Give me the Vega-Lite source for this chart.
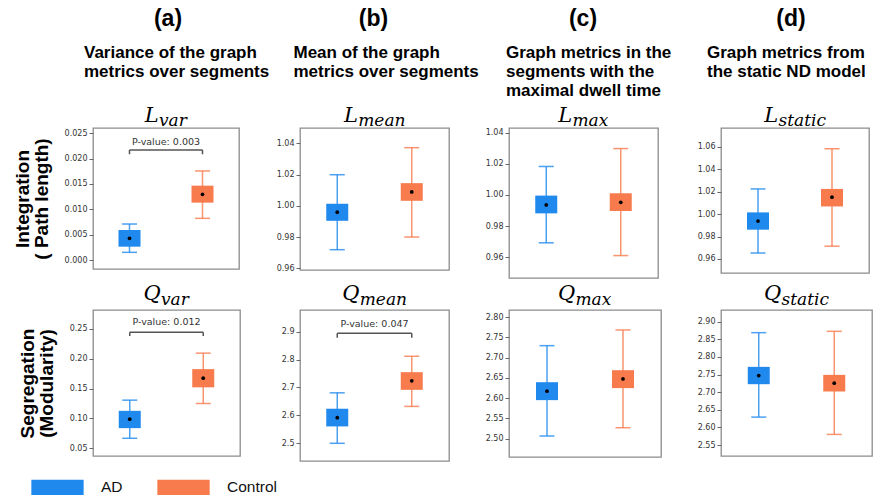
{
  "$schema": "https://vega.github.io/schema/vega-lite/v6.json",
  "padding": {"left": 12, "top": 0, "right": 0, "bottom": 0},
  "background": "white",
  "columns": 4,
  "bounds": "flush",
  "align": "each",
  "spacing": {"row": 32, "column": 60},
  "resolve": {"scale": {"color": "independent"}, "legend": {"color": "independent"}},
  "datasets": {
    "header": [
      {"col": "a", "line": 0, "text": "(a)"},
      {"col": "a", "line": 1, "text": "Variance of the graph"},
      {"col": "a", "line": 2, "text": "metrics over segments"},
      {"col": "b", "line": 0, "text": "(b)"},
      {"col": "b", "line": 1, "text": "Mean of the graph"},
      {"col": "b", "line": 2, "text": "metrics over segments"},
      {"col": "c", "line": 0, "text": "(c)"},
      {"col": "c", "line": 1, "text": "Graph metrics in the"},
      {"col": "c", "line": 2, "text": "segments with the"},
      {"col": "c", "line": 3, "text": "maximal dwell time"},
      {"col": "d", "line": 0, "text": "(d)"},
      {"col": "d", "line": 1, "text": "Graph metrics from"},
      {"col": "d", "line": 2, "text": "the static ND model"}
    ],
    "boxes": [
      {"panel": "Lvar", "group": "AD", "min": 0.00151, "q1": 0.00263, "mean": 0.00428, "q3": 0.00592, "max": 0.0071},
      {"panel": "Lvar", "group": "Control", "min": 0.00822, "q1": 0.01132, "mean": 0.01296, "q3": 0.01467, "max": 0.01757},
      {"panel": "Lmean", "group": "AD", "min": 0.9719, "q1": 0.9904, "mean": 0.9959, "q3": 1.0013, "max": 1.0199},
      {"panel": "Lmean", "group": "Control", "min": 0.98, "q1": 1.0032, "mean": 1.0089, "q3": 1.0145, "max": 1.0372},
      {"panel": "Lmax", "group": "AD", "min": 0.9693, "q1": 0.9882, "mean": 0.9936, "q3": 0.9996, "max": 1.0183},
      {"panel": "Lmax", "group": "Control", "min": 0.9611, "q1": 0.9897, "mean": 0.9953, "q3": 1.0011, "max": 1.0298},
      {"panel": "Lstatic", "group": "AD", "min": 0.9653, "q1": 0.9861, "mean": 0.9938, "q3": 1.0015, "max": 1.0224},
      {"panel": "Lstatic", "group": "Control", "min": 0.9714, "q1": 1.0068, "mean": 1.015, "q3": 1.0224, "max": 1.0582},
      {"panel": "Qvar", "group": "AD", "min": 0.0668, "q1": 0.0838, "mean": 0.0989, "q3": 0.1128, "max": 0.1307},
      {"panel": "Qvar", "group": "Control", "min": 0.1251, "q1": 0.1522, "mean": 0.1676, "q3": 0.1827, "max": 0.2095},
      {"panel": "Qmean", "group": "AD", "min": 2.5, "q1": 2.5606, "mean": 2.5916, "q3": 2.6239, "max": 2.6809},
      {"panel": "Qmean", "group": "Control", "min": 2.6322, "q1": 2.6916, "mean": 2.7239, "q3": 2.7549, "max": 2.8119},
      {"panel": "Qmax", "group": "AD", "min": 2.5066, "q1": 2.5951, "mean": 2.6173, "q3": 2.6393, "max": 2.7294},
      {"panel": "Qmax", "group": "Control", "min": 2.5271, "q1": 2.6247, "mean": 2.6475, "q3": 2.6689, "max": 2.7681},
      {"panel": "Qstatic", "group": "AD", "min": 2.6292, "q1": 2.7226, "mean": 2.7472, "q3": 2.7718, "max": 2.8689},
      {"panel": "Qstatic", "group": "Control", "min": 2.5801, "q1": 2.7019, "mean": 2.7254, "q3": 2.7491, "max": 2.8727}
    ],
    "brackets": [
      {"panel": "Lvar", "from": "AD", "to": "Control", "y": 0.02171, "yleg": 0.02086, "ytext": 0.02336, "label": "P-value:  0.003"},
      {"panel": "Qvar", "from": "AD", "to": "Control", "y": 0.2444, "yleg": 0.2381, "ytext": 0.2612, "label": "P-value:  0.012"},
      {"panel": "Qmean", "from": "AD", "to": "Control", "y": 2.894, "yleg": 2.8785, "ytext": 2.9275, "label": "P-value:  0.047"}
    ]
  },
  "concat": [
    {
      "width": 147, "height": 96, "view": {"stroke": null},
      "data": {"name": "header"},
      "transform": [{"filter": "datum.col === 'a'"}],
      "encoding": {"y": {"field": "line", "type": "quantitative", "scale": {"domain": [-2.053, 3.0], "reverse": true, "nice": false, "zero": false}, "axis": null}, "text": {"field": "text"}},
      "layer": [
        {"transform": [{"filter": "datum.line === 0"}], "mark": {"type": "text", "font": "Liberation Sans", "fontWeight": "bold", "fontSize": 23, "align": "center", "baseline": "alphabetic", "dy": -13, "dx": 1.5, "color": "#000000"}},
        {"transform": [{"filter": "datum.line > 0"}], "mark": {"type": "text", "font": "Liberation Sans", "fontWeight": "bold", "fontSize": 17, "align": "left", "baseline": "alphabetic", "dx": -82.5, "color": "#000000"}}
      ]
    },
    {
      "width": 149, "height": 96, "view": {"stroke": null},
      "data": {"name": "header"},
      "transform": [{"filter": "datum.col === 'b'"}],
      "encoding": {"y": {"field": "line", "type": "quantitative", "scale": {"domain": [-2.053, 3.0], "reverse": true, "nice": false, "zero": false}, "axis": null}, "text": {"field": "text"}},
      "layer": [
        {"transform": [{"filter": "datum.line === 0"}], "mark": {"type": "text", "font": "Liberation Sans", "fontWeight": "bold", "fontSize": 23, "align": "center", "baseline": "alphabetic", "dy": -13, "dx": -1, "color": "#000000"}},
        {"transform": [{"filter": "datum.line > 0"}], "mark": {"type": "text", "font": "Liberation Sans", "fontWeight": "bold", "fontSize": 17, "align": "left", "baseline": "alphabetic", "dx": -81, "color": "#000000"}}
      ]
    },
    {
      "width": 152, "height": 96, "view": {"stroke": null},
      "data": {"name": "header"},
      "transform": [{"filter": "datum.col === 'c'"}],
      "encoding": {"y": {"field": "line", "type": "quantitative", "scale": {"domain": [-2.053, 3.0], "reverse": true, "nice": false, "zero": false}, "axis": null}, "text": {"field": "text"}},
      "layer": [
        {"transform": [{"filter": "datum.line === 0"}], "mark": {"type": "text", "font": "Liberation Sans", "fontWeight": "bold", "fontSize": 23, "align": "center", "baseline": "alphabetic", "dy": -13, "dx": -2, "color": "#000000"}},
        {"transform": [{"filter": "datum.line > 0"}], "mark": {"type": "text", "font": "Liberation Sans", "fontWeight": "bold", "fontSize": 17, "align": "left", "baseline": "alphabetic", "dx": -79, "color": "#000000"}}
      ]
    },
    {
      "width": 151, "height": 96, "view": {"stroke": null},
      "data": {"name": "header"},
      "transform": [{"filter": "datum.col === 'd'"}],
      "encoding": {"y": {"field": "line", "type": "quantitative", "scale": {"domain": [-2.053, 3.0], "reverse": true, "nice": false, "zero": false}, "axis": null}, "text": {"field": "text"}},
      "layer": [
        {"transform": [{"filter": "datum.line === 0"}], "mark": {"type": "text", "font": "Liberation Sans", "fontWeight": "bold", "fontSize": 23, "align": "center", "baseline": "alphabetic", "dy": -13, "dx": -5.5, "color": "#000000"}},
        {"transform": [{"filter": "datum.line > 0"}], "mark": {"type": "text", "font": "Liberation Sans", "fontWeight": "bold", "fontSize": 17, "align": "left", "baseline": "alphabetic", "dx": -89.5, "color": "#000000"}}
      ]
    },
    {
      "width": 146, "height": 141,
      "title": {"text": "L", "dx": -14.2, "offset": 0, "dy": 15},
      "data": {"name": "boxes"},
      "transform": [{"filter": "datum.panel === 'Lvar'"}],
      "encoding": {"x": {"field": "group", "type": "nominal", "title": "var", "scale": {"type": "point", "padding": 0.5, "domain": ["AD", "Control"]}, "axis": {"orient": "top", "title": "var", "titleX": 65.5, "titleY": -3}}},
      "layer": [
        {"mark": {"type": "rule", "strokeWidth": 1.5, "opacity": 0.8}, "encoding": {"y": {"field": "min", "type": "quantitative", "title": ["Integration", "( Path length)"], "scale": {"domain": [-0.001776, 0.02605], "nice": false, "zero": false}, "axis": {"values": [0, 0.005, 0.01, 0.015, 0.02, 0.025], "format": ".3f"}}, "y2": {"field": "max"}, "color": {"field": "group", "type": "nominal", "scale": {"domain": ["AD", "Control"], "range": ["#1f89ee", "#f77b4c"]}, "legend": null}}},
        {"mark": {"type": "tick", "thickness": 1.5, "size": 15, "opacity": 0.8}, "encoding": {"y": {"field": "min", "type": "quantitative", "title": ["Integration", "( Path length)"], "axis": {"values": [0, 0.005, 0.01, 0.015, 0.02, 0.025], "format": ".3f"}}, "color": {"field": "group", "type": "nominal", "legend": null}}},
        {"mark": {"type": "tick", "thickness": 1.5, "size": 15, "opacity": 0.8}, "encoding": {"y": {"field": "max", "type": "quantitative", "title": ["Integration", "( Path length)"], "axis": {"values": [0, 0.005, 0.01, 0.015, 0.02, 0.025], "format": ".3f"}}, "color": {"field": "group", "type": "nominal", "legend": null}}},
        {"mark": {"type": "bar", "size": 22}, "encoding": {"y": {"field": "q1", "type": "quantitative", "title": ["Integration", "( Path length)"], "axis": {"values": [0, 0.005, 0.01, 0.015, 0.02, 0.025], "format": ".3f"}}, "y2": {"field": "q3"}, "color": {"field": "group", "type": "nominal", "legend": null}}},
        {"mark": {"type": "point", "filled": true, "color": "#000000", "size": 14, "opacity": 1}, "encoding": {"y": {"field": "mean", "type": "quantitative", "title": ["Integration", "( Path length)"], "axis": {"values": [0, 0.005, 0.01, 0.015, 0.02, 0.025], "format": ".3f"}}}},
        {"data": {"name": "brackets"}, "transform": [{"filter": "datum.panel === 'Lvar'"}], "mark": {"type": "rule", "color": "#555555", "strokeWidth": 1.5}, "encoding": {"x": {"field": "from", "type": "nominal", "title": "var"}, "x2": {"field": "to"}, "y": {"field": "y", "type": "quantitative", "title": ["Integration", "( Path length)"], "axis": {"values": [0, 0.005, 0.01, 0.015, 0.02, 0.025], "format": ".3f"}}}},
        {"data": {"name": "brackets"}, "transform": [{"filter": "datum.panel === 'Lvar'"}], "mark": {"type": "rule", "color": "#555555", "strokeWidth": 1.5}, "encoding": {"x": {"field": "from", "type": "nominal", "title": "var"}, "y": {"field": "y", "type": "quantitative", "title": ["Integration", "( Path length)"], "axis": {"values": [0, 0.005, 0.01, 0.015, 0.02, 0.025], "format": ".3f"}}, "y2": {"field": "yleg"}}},
        {"data": {"name": "brackets"}, "transform": [{"filter": "datum.panel === 'Lvar'"}], "mark": {"type": "rule", "color": "#555555", "strokeWidth": 1.5}, "encoding": {"x": {"field": "to", "type": "nominal", "title": "var"}, "y": {"field": "y", "type": "quantitative", "title": ["Integration", "( Path length)"], "axis": {"values": [0, 0.005, 0.01, 0.015, 0.02, 0.025], "format": ".3f"}}, "y2": {"field": "yleg"}}},
        {"data": {"name": "brackets"}, "transform": [{"filter": "datum.panel === 'Lvar'"}], "mark": {"type": "text", "font": "DejaVu Sans", "fontSize": 9.5, "color": "#333333", "align": "center", "baseline": "middle", "dx": 36.5}, "encoding": {"x": {"field": "from", "type": "nominal", "title": "var"}, "y": {"field": "ytext", "type": "quantitative", "title": ["Integration", "( Path length)"], "axis": {"values": [0, 0.005, 0.01, 0.015, 0.02, 0.025], "format": ".3f"}}, "text": {"field": "label"}}}
      ]
    },
    {
      "width": 149, "height": 142,
      "title": {"text": "L", "dx": -23.5, "offset": 0, "dy": 15},
      "data": {"name": "boxes"},
      "transform": [{"filter": "datum.panel === 'Lmean'"}],
      "encoding": {"x": {"field": "group", "type": "nominal", "scale": {"type": "point", "padding": 0.5, "domain": ["AD", "Control"]}, "axis": {"orient": "top", "title": "mean", "titleX": 57.7, "titleY": -3}}},
      "layer": [
        {"mark": {"type": "rule", "strokeWidth": 1.5, "opacity": 0.8}, "encoding": {"y": {"field": "min", "type": "quantitative", "title": null, "scale": {"domain": [0.9589, 1.0498], "nice": false, "zero": false}, "axis": {"values": [0.96, 0.98, 1.0, 1.02, 1.04], "format": ".2f"}}, "y2": {"field": "max"}, "color": {"field": "group", "type": "nominal", "scale": {"domain": ["AD", "Control"], "range": ["#1f89ee", "#f77b4c"]}, "legend": null}}},
        {"mark": {"type": "tick", "thickness": 1.5, "size": 15, "opacity": 0.8}, "encoding": {"y": {"field": "min", "type": "quantitative", "title": null, "axis": {"values": [0.96, 0.98, 1.0, 1.02, 1.04], "format": ".2f"}}, "color": {"field": "group", "type": "nominal", "legend": null}}},
        {"mark": {"type": "tick", "thickness": 1.5, "size": 15, "opacity": 0.8}, "encoding": {"y": {"field": "max", "type": "quantitative", "title": null, "axis": {"values": [0.96, 0.98, 1.0, 1.02, 1.04], "format": ".2f"}}, "color": {"field": "group", "type": "nominal", "legend": null}}},
        {"mark": {"type": "bar", "size": 22}, "encoding": {"y": {"field": "q1", "type": "quantitative", "title": null, "axis": {"values": [0.96, 0.98, 1.0, 1.02, 1.04], "format": ".2f"}}, "y2": {"field": "q3"}, "color": {"field": "group", "type": "nominal", "legend": null}}},
        {"mark": {"type": "point", "filled": true, "color": "#000000", "size": 14, "opacity": 1}, "encoding": {"y": {"field": "mean", "type": "quantitative", "title": null, "axis": {"values": [0.96, 0.98, 1.0, 1.02, 1.04], "format": ".2f"}}}}
      ]
    },
    {
      "width": 149, "height": 150,
      "title": {"text": "L", "dx": -18.2, "offset": 0, "dy": 15},
      "data": {"name": "boxes"},
      "transform": [{"filter": "datum.panel === 'Lmax'"}],
      "encoding": {"x": {"field": "group", "type": "nominal", "scale": {"type": "point", "padding": 0.5, "domain": ["AD", "Control"]}, "axis": {"orient": "top", "title": "max", "titleX": 63, "titleY": -3}}},
      "layer": [
        {"mark": {"type": "rule", "strokeWidth": 1.5, "opacity": 0.8}, "encoding": {"y": {"field": "min", "type": "quantitative", "title": null, "scale": {"domain": [0.9467, 1.043], "nice": false, "zero": false}, "axis": {"values": [0.96, 0.98, 1.0, 1.02, 1.04], "format": ".2f"}}, "y2": {"field": "max"}, "color": {"field": "group", "type": "nominal", "scale": {"domain": ["AD", "Control"], "range": ["#1f89ee", "#f77b4c"]}, "legend": null}}},
        {"mark": {"type": "tick", "thickness": 1.5, "size": 15, "opacity": 0.8}, "encoding": {"y": {"field": "min", "type": "quantitative", "title": null, "axis": {"values": [0.96, 0.98, 1.0, 1.02, 1.04], "format": ".2f"}}, "color": {"field": "group", "type": "nominal", "legend": null}}},
        {"mark": {"type": "tick", "thickness": 1.5, "size": 15, "opacity": 0.8}, "encoding": {"y": {"field": "max", "type": "quantitative", "title": null, "axis": {"values": [0.96, 0.98, 1.0, 1.02, 1.04], "format": ".2f"}}, "color": {"field": "group", "type": "nominal", "legend": null}}},
        {"mark": {"type": "bar", "size": 22}, "encoding": {"y": {"field": "q1", "type": "quantitative", "title": null, "axis": {"values": [0.96, 0.98, 1.0, 1.02, 1.04], "format": ".2f"}}, "y2": {"field": "q3"}, "color": {"field": "group", "type": "nominal", "legend": null}}},
        {"mark": {"type": "point", "filled": true, "color": "#000000", "size": 14, "opacity": 1}, "encoding": {"y": {"field": "mean", "type": "quantitative", "title": null, "axis": {"values": [0.96, 0.98, 1.0, 1.02, 1.04], "format": ".2f"}}}}
      ]
    },
    {
      "width": 148, "height": 145,
      "title": {"text": "L", "dx": -23.7, "offset": 0, "dy": 15},
      "data": {"name": "boxes"},
      "transform": [{"filter": "datum.panel === 'Lstatic'"}],
      "encoding": {"x": {"field": "group", "type": "nominal", "scale": {"type": "point", "padding": 0.5, "domain": ["AD", "Control"]}, "axis": {"orient": "top", "title": "static", "titleX": 57, "titleY": -3}}},
      "layer": [
        {"mark": {"type": "rule", "strokeWidth": 1.5, "opacity": 0.8}, "encoding": {"y": {"field": "min", "type": "quantitative", "title": null, "scale": {"domain": [0.9475, 1.0767], "nice": false, "zero": false}, "axis": {"values": [0.96, 0.98, 1.0, 1.02, 1.04, 1.06], "format": ".2f"}}, "y2": {"field": "max"}, "color": {"field": "group", "type": "nominal", "scale": {"domain": ["AD", "Control"], "range": ["#1f89ee", "#f77b4c"]}, "legend": null}}},
        {"mark": {"type": "tick", "thickness": 1.5, "size": 15, "opacity": 0.8}, "encoding": {"y": {"field": "min", "type": "quantitative", "title": null, "axis": {"values": [0.96, 0.98, 1.0, 1.02, 1.04, 1.06], "format": ".2f"}}, "color": {"field": "group", "type": "nominal", "legend": null}}},
        {"mark": {"type": "tick", "thickness": 1.5, "size": 15, "opacity": 0.8}, "encoding": {"y": {"field": "max", "type": "quantitative", "title": null, "axis": {"values": [0.96, 0.98, 1.0, 1.02, 1.04, 1.06], "format": ".2f"}}, "color": {"field": "group", "type": "nominal", "legend": null}}},
        {"mark": {"type": "bar", "size": 22}, "encoding": {"y": {"field": "q1", "type": "quantitative", "title": null, "axis": {"values": [0.96, 0.98, 1.0, 1.02, 1.04, 1.06], "format": ".2f"}}, "y2": {"field": "q3"}, "color": {"field": "group", "type": "nominal", "legend": null}}},
        {"mark": {"type": "point", "filled": true, "color": "#000000", "size": 14, "opacity": 1}, "encoding": {"y": {"field": "mean", "type": "quantitative", "title": null, "axis": {"values": [0.96, 0.98, 1.0, 1.02, 1.04, 1.06], "format": ".2f"}}}}
      ]
    },
    {
      "width": 147, "height": 146,
      "title": {"text": "Q", "dx": -14.3, "offset": 0, "dy": 14},
      "data": {"name": "boxes"},
      "transform": [{"filter": "datum.panel === 'Qvar'"}],
      "encoding": {"x": {"field": "group", "type": "nominal", "title": "var", "scale": {"type": "point", "padding": 0.5, "domain": ["AD", "Control"]}, "axis": {"orient": "top", "title": "var", "titleX": 67.5, "titleY": -6}}},
      "layer": [
        {"mark": {"type": "rule", "strokeWidth": 1.5, "opacity": 0.8}, "encoding": {"y": {"field": "min", "type": "quantitative", "title": ["Segregation", "(Modularity)"], "scale": {"domain": [0.0371, 0.2818], "nice": false, "zero": false}, "axis": {"values": [0.05, 0.1, 0.15, 0.2, 0.25], "format": ".2f"}}, "y2": {"field": "max"}, "color": {"field": "group", "type": "nominal", "scale": {"domain": ["AD", "Control"], "range": ["#1f89ee", "#f77b4c"]}}}},
        {"mark": {"type": "tick", "thickness": 1.5, "size": 15, "opacity": 0.8}, "encoding": {"y": {"field": "min", "type": "quantitative", "title": ["Segregation", "(Modularity)"], "axis": {"values": [0.05, 0.1, 0.15, 0.2, 0.25], "format": ".2f"}}, "color": {"field": "group", "type": "nominal"}}},
        {"mark": {"type": "tick", "thickness": 1.5, "size": 15, "opacity": 0.8}, "encoding": {"y": {"field": "max", "type": "quantitative", "title": ["Segregation", "(Modularity)"], "axis": {"values": [0.05, 0.1, 0.15, 0.2, 0.25], "format": ".2f"}}, "color": {"field": "group", "type": "nominal"}}},
        {"mark": {"type": "bar", "size": 22}, "encoding": {"y": {"field": "q1", "type": "quantitative", "title": ["Segregation", "(Modularity)"], "axis": {"values": [0.05, 0.1, 0.15, 0.2, 0.25], "format": ".2f"}}, "y2": {"field": "q3"}, "color": {"field": "group", "type": "nominal", "legend": {"orient": "none", "legendX": -62, "legendY": 150.5, "direction": "horizontal", "title": null, "symbolType": "M-1,-0.2745H1V0.2745H-1Z", "symbolSize": 2601, "symbolStrokeColor": "#3a5a8c", "symbolStrokeWidth": 1.3, "symbolOpacity": 1, "labelFont": "Liberation Sans", "labelFontSize": 15.5, "labelColor": "#111111", "labelOffset": 17, "columnPadding": 32, "encode": {"symbols": {"update": {"fill": {"signal": "datum.value === 'AD' ? '#3a92ec' : '#f97428'"}, "stroke": {"value": "#3a5a8c"}, "strokeWidth": {"value": 1.3}, "opacity": {"value": 1}, "fillOpacity": {"value": 1}, "strokeOpacity": {"value": 1}}}}}}}},
        {"mark": {"type": "point", "filled": true, "color": "#000000", "size": 14, "opacity": 1}, "encoding": {"y": {"field": "mean", "type": "quantitative", "title": ["Segregation", "(Modularity)"], "axis": {"values": [0.05, 0.1, 0.15, 0.2, 0.25], "format": ".2f"}}}},
        {"data": {"name": "brackets"}, "transform": [{"filter": "datum.panel === 'Qvar'"}], "mark": {"type": "rule", "color": "#555555", "strokeWidth": 1.5}, "encoding": {"x": {"field": "from", "type": "nominal", "title": "var"}, "x2": {"field": "to"}, "y": {"field": "y", "type": "quantitative", "title": ["Segregation", "(Modularity)"], "axis": {"values": [0.05, 0.1, 0.15, 0.2, 0.25], "format": ".2f"}}}},
        {"data": {"name": "brackets"}, "transform": [{"filter": "datum.panel === 'Qvar'"}], "mark": {"type": "rule", "color": "#555555", "strokeWidth": 1.5}, "encoding": {"x": {"field": "from", "type": "nominal", "title": "var"}, "y": {"field": "y", "type": "quantitative", "title": ["Segregation", "(Modularity)"], "axis": {"values": [0.05, 0.1, 0.15, 0.2, 0.25], "format": ".2f"}}, "y2": {"field": "yleg"}}},
        {"data": {"name": "brackets"}, "transform": [{"filter": "datum.panel === 'Qvar'"}], "mark": {"type": "rule", "color": "#555555", "strokeWidth": 1.5}, "encoding": {"x": {"field": "to", "type": "nominal", "title": "var"}, "y": {"field": "y", "type": "quantitative", "title": ["Segregation", "(Modularity)"], "axis": {"values": [0.05, 0.1, 0.15, 0.2, 0.25], "format": ".2f"}}, "y2": {"field": "yleg"}}},
        {"data": {"name": "brackets"}, "transform": [{"filter": "datum.panel === 'Qvar'"}], "mark": {"type": "text", "font": "DejaVu Sans", "fontSize": 9.5, "color": "#333333", "align": "center", "baseline": "middle", "dx": 36.75}, "encoding": {"x": {"field": "from", "type": "nominal", "title": "var"}, "y": {"field": "ytext", "type": "quantitative", "title": ["Segregation", "(Modularity)"], "axis": {"values": [0.05, 0.1, 0.15, 0.2, 0.25], "format": ".2f"}}, "text": {"field": "label"}}}
      ]
    },
    {
      "width": 149, "height": 151,
      "title": {"text": "Q", "dx": -23.6, "offset": 0, "dy": 14},
      "data": {"name": "boxes"},
      "transform": [{"filter": "datum.panel === 'Qmean'"}],
      "encoding": {"x": {"field": "group", "type": "nominal", "title": "mean", "scale": {"type": "point", "padding": 0.5, "domain": ["AD", "Control"]}, "axis": {"orient": "top", "title": "mean", "titleX": 59.2, "titleY": -6}}},
      "layer": [
        {"mark": {"type": "rule", "strokeWidth": 1.5, "opacity": 0.8}, "encoding": {"y": {"field": "min", "type": "quantitative", "title": null, "scale": {"domain": [2.4366, 2.9777], "nice": false, "zero": false}, "axis": {"values": [2.5, 2.6, 2.7, 2.8, 2.9], "format": ".1f"}}, "y2": {"field": "max"}, "color": {"field": "group", "type": "nominal", "scale": {"domain": ["AD", "Control"], "range": ["#1f89ee", "#f77b4c"]}, "legend": null}}},
        {"mark": {"type": "tick", "thickness": 1.5, "size": 15, "opacity": 0.8}, "encoding": {"y": {"field": "min", "type": "quantitative", "title": null, "axis": {"values": [2.5, 2.6, 2.7, 2.8, 2.9], "format": ".1f"}}, "color": {"field": "group", "type": "nominal", "legend": null}}},
        {"mark": {"type": "tick", "thickness": 1.5, "size": 15, "opacity": 0.8}, "encoding": {"y": {"field": "max", "type": "quantitative", "title": null, "axis": {"values": [2.5, 2.6, 2.7, 2.8, 2.9], "format": ".1f"}}, "color": {"field": "group", "type": "nominal", "legend": null}}},
        {"mark": {"type": "bar", "size": 22}, "encoding": {"y": {"field": "q1", "type": "quantitative", "title": null, "axis": {"values": [2.5, 2.6, 2.7, 2.8, 2.9], "format": ".1f"}}, "y2": {"field": "q3"}, "color": {"field": "group", "type": "nominal", "legend": null}}},
        {"mark": {"type": "point", "filled": true, "color": "#000000", "size": 14, "opacity": 1}, "encoding": {"y": {"field": "mean", "type": "quantitative", "title": null, "axis": {"values": [2.5, 2.6, 2.7, 2.8, 2.9], "format": ".1f"}}}},
        {"data": {"name": "brackets"}, "transform": [{"filter": "datum.panel === 'Qmean'"}], "mark": {"type": "rule", "color": "#555555", "strokeWidth": 1.5}, "encoding": {"x": {"field": "from", "type": "nominal", "title": "mean"}, "x2": {"field": "to"}, "y": {"field": "y", "type": "quantitative", "title": null, "axis": {"values": [2.5, 2.6, 2.7, 2.8, 2.9], "format": ".1f"}}}},
        {"data": {"name": "brackets"}, "transform": [{"filter": "datum.panel === 'Qmean'"}], "mark": {"type": "rule", "color": "#555555", "strokeWidth": 1.5}, "encoding": {"x": {"field": "from", "type": "nominal", "title": "mean"}, "y": {"field": "y", "type": "quantitative", "title": null, "axis": {"values": [2.5, 2.6, 2.7, 2.8, 2.9], "format": ".1f"}}, "y2": {"field": "yleg"}}},
        {"data": {"name": "brackets"}, "transform": [{"filter": "datum.panel === 'Qmean'"}], "mark": {"type": "rule", "color": "#555555", "strokeWidth": 1.5}, "encoding": {"x": {"field": "to", "type": "nominal", "title": "mean"}, "y": {"field": "y", "type": "quantitative", "title": null, "axis": {"values": [2.5, 2.6, 2.7, 2.8, 2.9], "format": ".1f"}}, "y2": {"field": "yleg"}}},
        {"data": {"name": "brackets"}, "transform": [{"filter": "datum.panel === 'Qmean'"}], "mark": {"type": "text", "font": "DejaVu Sans", "fontSize": 9.5, "color": "#333333", "align": "center", "baseline": "middle", "dx": 37.25}, "encoding": {"x": {"field": "from", "type": "nominal", "title": "mean"}, "y": {"field": "ytext", "type": "quantitative", "title": null, "axis": {"values": [2.5, 2.6, 2.7, 2.8, 2.9], "format": ".1f"}}, "text": {"field": "label"}}}
      ]
    },
    {
      "width": 152, "height": 147,
      "title": {"text": "Q", "dx": -18.3, "offset": 0, "dy": 14},
      "data": {"name": "boxes"},
      "transform": [{"filter": "datum.panel === 'Qmax'"}],
      "encoding": {"x": {"field": "group", "type": "nominal", "scale": {"type": "point", "padding": 0.5, "domain": ["AD", "Control"]}, "axis": {"orient": "top", "title": "max", "titleX": 66, "titleY": -6}}},
      "layer": [
        {"mark": {"type": "rule", "strokeWidth": 1.5, "opacity": 0.8}, "encoding": {"y": {"field": "min", "type": "quantitative", "title": null, "scale": {"domain": [2.4549, 2.8173], "nice": false, "zero": false}, "axis": {"values": [2.5, 2.55, 2.6, 2.65, 2.7, 2.75, 2.8], "format": ".2f"}}, "y2": {"field": "max"}, "color": {"field": "group", "type": "nominal", "scale": {"domain": ["AD", "Control"], "range": ["#1f89ee", "#f77b4c"]}, "legend": null}}},
        {"mark": {"type": "tick", "thickness": 1.5, "size": 15, "opacity": 0.8}, "encoding": {"y": {"field": "min", "type": "quantitative", "title": null, "axis": {"values": [2.5, 2.55, 2.6, 2.65, 2.7, 2.75, 2.8], "format": ".2f"}}, "color": {"field": "group", "type": "nominal", "legend": null}}},
        {"mark": {"type": "tick", "thickness": 1.5, "size": 15, "opacity": 0.8}, "encoding": {"y": {"field": "max", "type": "quantitative", "title": null, "axis": {"values": [2.5, 2.55, 2.6, 2.65, 2.7, 2.75, 2.8], "format": ".2f"}}, "color": {"field": "group", "type": "nominal", "legend": null}}},
        {"mark": {"type": "bar", "size": 22}, "encoding": {"y": {"field": "q1", "type": "quantitative", "title": null, "axis": {"values": [2.5, 2.55, 2.6, 2.65, 2.7, 2.75, 2.8], "format": ".2f"}}, "y2": {"field": "q3"}, "color": {"field": "group", "type": "nominal", "legend": null}}},
        {"mark": {"type": "point", "filled": true, "color": "#000000", "size": 14, "opacity": 1}, "encoding": {"y": {"field": "mean", "type": "quantitative", "title": null, "axis": {"values": [2.5, 2.55, 2.6, 2.65, 2.7, 2.75, 2.8], "format": ".2f"}}}}
      ]
    },
    {
      "width": 151, "height": 146,
      "title": {"text": "Q", "dx": -23.8, "offset": 0, "dy": 14},
      "data": {"name": "boxes"},
      "transform": [{"filter": "datum.panel === 'Qstatic'"}],
      "encoding": {"x": {"field": "group", "type": "nominal", "scale": {"type": "point", "padding": 0.5, "domain": ["AD", "Control"]}, "axis": {"orient": "top", "title": "static", "titleX": 60, "titleY": -6}}},
      "layer": [
        {"mark": {"type": "rule", "strokeWidth": 1.5, "opacity": 0.8}, "encoding": {"y": {"field": "min", "type": "quantitative", "title": null, "scale": {"domain": [2.5188, 2.9332], "nice": false, "zero": false}, "axis": {"values": [2.55, 2.6, 2.65, 2.7, 2.75, 2.8, 2.85, 2.9], "format": ".2f"}}, "y2": {"field": "max"}, "color": {"field": "group", "type": "nominal", "scale": {"domain": ["AD", "Control"], "range": ["#1f89ee", "#f77b4c"]}, "legend": null}}},
        {"mark": {"type": "tick", "thickness": 1.5, "size": 15, "opacity": 0.8}, "encoding": {"y": {"field": "min", "type": "quantitative", "title": null, "axis": {"values": [2.55, 2.6, 2.65, 2.7, 2.75, 2.8, 2.85, 2.9], "format": ".2f"}}, "color": {"field": "group", "type": "nominal", "legend": null}}},
        {"mark": {"type": "tick", "thickness": 1.5, "size": 15, "opacity": 0.8}, "encoding": {"y": {"field": "max", "type": "quantitative", "title": null, "axis": {"values": [2.55, 2.6, 2.65, 2.7, 2.75, 2.8, 2.85, 2.9], "format": ".2f"}}, "color": {"field": "group", "type": "nominal", "legend": null}}},
        {"mark": {"type": "bar", "size": 22}, "encoding": {"y": {"field": "q1", "type": "quantitative", "title": null, "axis": {"values": [2.55, 2.6, 2.65, 2.7, 2.75, 2.8, 2.85, 2.9], "format": ".2f"}}, "y2": {"field": "q3"}, "color": {"field": "group", "type": "nominal", "legend": null}}},
        {"mark": {"type": "point", "filled": true, "color": "#000000", "size": 14, "opacity": 1}, "encoding": {"y": {"field": "mean", "type": "quantitative", "title": null, "axis": {"values": [2.55, 2.6, 2.65, 2.7, 2.75, 2.8, 2.85, 2.9], "format": ".2f"}}}}
      ]
    }
  ],
  "config": {
    "view": {"stroke": "#8c8c8c", "strokeWidth": 1.3},
    "axisY": {"labelFont": "DejaVu Sans", "labelFontSize": 8, "labelColor": "#333333", "labelOverlap": false, "labelBound": false, "tickColor": "#666666", "tickSize": 4, "tickWidth": 1, "labelPadding": 2, "domain": false, "grid": false, "titleFont": "Liberation Sans", "titleFontSize": 19, "titleFontWeight": "bold", "titleColor": "#000000", "titlePadding": 13, "titleLineHeight": 19},
    "axisX": {"labels": false, "ticks": false, "domain": false, "grid": false, "titleFont": "DejaVu Serif", "titleFontStyle": "italic", "titleFontWeight": "normal", "titleFontSize": 17, "titleColor": "#000000", "titleAlign": "left", "titleBaseline": "alphabetic"},
    "title": {"font": "DejaVu Serif", "fontStyle": "italic", "fontWeight": "normal", "fontSize": 21, "color": "#000000", "anchor": "middle", "frame": "group", "baseline": "alphabetic"}
  }
}
